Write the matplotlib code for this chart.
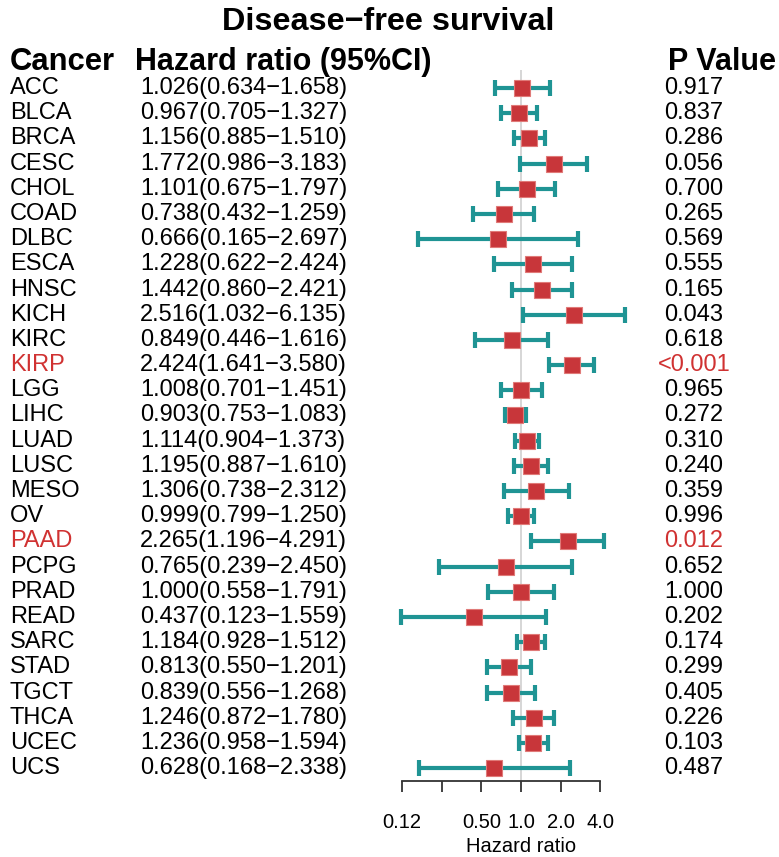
import matplotlib
matplotlib.use("Agg")
import matplotlib.pyplot as plt
import matplotlib.transforms as mtransforms
import numpy as np

plt.rcParams['font.family'] = ['Liberation Sans', 'DejaVu Sans']

cancers = ["ACC", "BLCA", "BRCA", "CESC", "CHOL", "COAD", "DLBC", "ESCA", "HNSC",
           "KICH", "KIRC", "KIRP", "LGG", "LIHC", "LUAD", "LUSC", "MESO", "OV",
           "PAAD", "PCPG", "PRAD", "READ", "SARC", "STAD", "TGCT", "THCA", "UCEC", "UCS"]
hr = [1.026, 0.967, 1.156, 1.772, 1.101, 0.738, 0.666, 1.228, 1.442,
      2.516, 0.849, 2.424, 1.008, 0.903, 1.114, 1.195, 1.306, 0.999,
      2.265, 0.765, 1.000, 0.437, 1.184, 0.813, 0.839, 1.246, 1.236, 0.628]
lower = [0.634, 0.705, 0.885, 0.986, 0.675, 0.432, 0.165, 0.622, 0.860,
         1.032, 0.446, 1.641, 0.701, 0.753, 0.904, 0.887, 0.738, 0.799,
         1.196, 0.239, 0.558, 0.123, 0.928, 0.550, 0.556, 0.872, 0.958, 0.168]
upper = [1.658, 1.327, 1.510, 3.183, 1.797, 1.259, 2.697, 2.424, 2.421,
         6.135, 1.616, 3.580, 1.451, 1.083, 1.373, 1.610, 2.312, 1.250,
         4.291, 2.450, 1.791, 1.559, 1.512, 1.201, 1.268, 1.780, 1.594, 2.338]
pvals = ["0.917", "0.837", "0.286", "0.056", "0.700", "0.265", "0.569", "0.555", "0.165",
         "0.043", "0.618", "<0.001", "0.965", "0.272", "0.310", "0.240", "0.359", "0.996",
         "0.012", "0.652", "1.000", "0.202", "0.174", "0.299", "0.405", "0.226", "0.103", "0.487"]
highlight = ["KIRP", "PAAD"]

xticks = [0.125, 0.25, 0.5, 1, 2, 4]
xticklabels = ["0.12", "", "0.50", "1.0", "2.0", "4.0"]

W, H = 779, 857
fig = plt.figure(figsize=(W / 100, H / 100), dpi=100)

# plot panel: x 380..650 px, y 70..781 px
ax = fig.add_axes([380 / W, 1 - 781 / H, 270 / W, 711 / H])
ax.set_xscale('log', base=2)
ax.set_xlim(2 ** ((380 - 521) / 39.7), 2 ** ((650 - 521) / 39.7))
row0, step = 88, 25.19
ax.set_ylim((781 - row0) / step, (70 - row0) / step)

n = len(cancers)
ys = np.arange(n)
hr_a = np.array(hr)
lo_a = np.array(lower)
hi_a = np.array(upper)

ax.axvline(1, color='#cfcfcf', lw=1.2, zorder=1)
ax.errorbar(hr_a, ys, xerr=[hr_a - lo_a, hi_a - hr_a], fmt='none',
            ecolor='#1f9494', elinewidth=3, capsize=5.5, capthick=3, zorder=2)
ax.plot(hr_a, ys, 's', ms=12, mfc='#c8363a', mec='#e07a78', mew=0.8,
        ls='none', zorder=3)

for s in ['top', 'right', 'left']:
    ax.spines[s].set_visible(False)
ax.spines['bottom'].set_bounds(0.125, 4)
ax.spines['bottom'].set_linewidth(1.3)
ax.spines['bottom'].set_color('#333333')
ax.set_yticks([])
ax.set_xticks(xticks)
ax.set_xticklabels(xticklabels, fontsize=14.5)
ax.minorticks_off()
ax.tick_params(axis='x', length=8, width=1.3, color='#333333', pad=15)
ax.patch.set_alpha(0)

fig.text(521 / W, 1 - 846 / H, "Hazard ratio", ha='center', va='center', fontsize=14.5)

# text columns
tr = mtransforms.blended_transform_factory(fig.transFigure, ax.transData)
fs = 17
for i in range(n):
    col = '#d03232' if cancers[i] in highlight else 'black'
    ax.text(10 / W, i, cancers[i], transform=tr, ha='left', va='center',
            fontsize=fs, color=col)
    ax.text(140 / W, i, "%.3f(%.3f\u2212%.3f)" % (hr[i], lower[i], upper[i]),
            transform=tr, ha='left', va='center', fontsize=fs, color='black')
    ax.text(694 / W, i, pvals[i], transform=tr, ha='center', va='center',
            fontsize=fs, color=col)

fig.text(388 / W, 1 - 22 / H, "Disease\u2212free survival", ha='center', va='center',
         fontsize=23.3, fontweight='bold')
fig.text(10 / W, 1 - 62 / H, "Cancer", ha='left', va='center', fontsize=22.3, fontweight='bold')
fig.text(135 / W, 1 - 62 / H, "Hazard ratio (95%CI)", ha='left', va='center',
         fontsize=22, fontweight='bold')
fig.text(668 / W, 1 - 62 / H, "P Value", ha='left', va='center', fontsize=22, fontweight='bold')

fig.savefig("out.png", dpi=100)
